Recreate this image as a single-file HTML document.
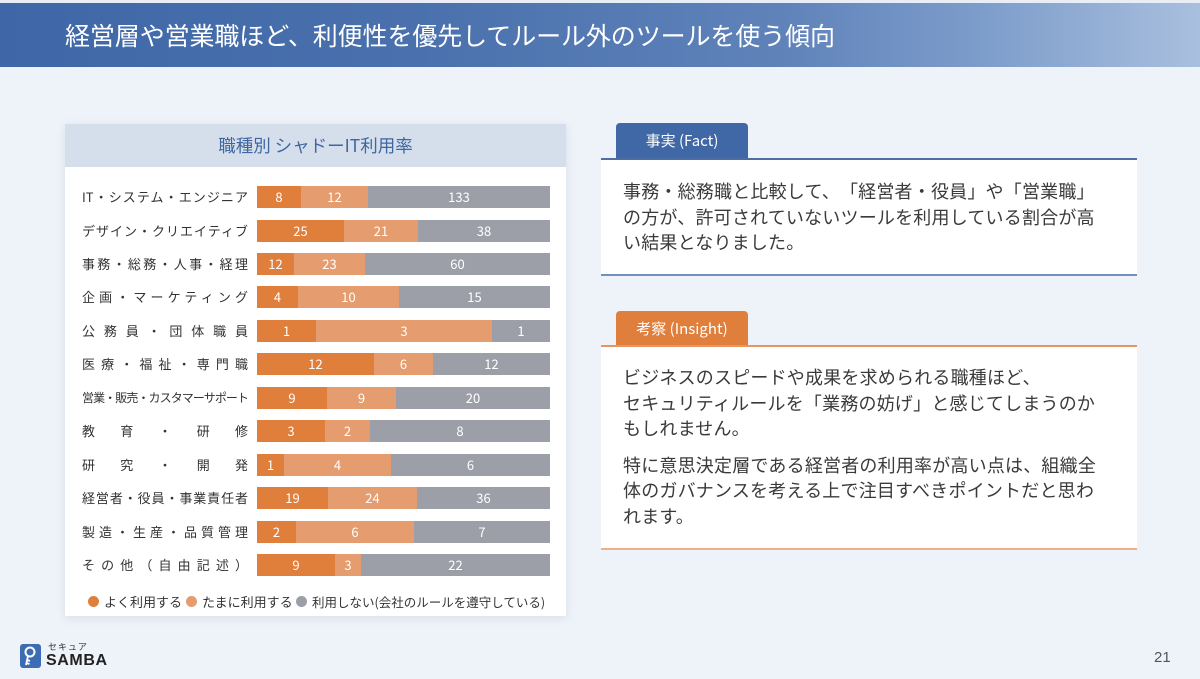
<!DOCTYPE html>
<html><head><meta charset="utf-8">
<style>
*{margin:0;padding:0;box-sizing:border-box}
body{width:1200px;height:679px;overflow:hidden;background:#eef2f9;font-family:"Liberation Sans","Noto Sans CJK JP",sans-serif;position:relative;color:#333;text-spacing-trim:space-all}
.abs{position:absolute}
#hdr{left:0;top:3px;width:1200px;height:64px;background:linear-gradient(90deg,#3f67a7 0%,#4a71ad 35%,#5f82b9 65%,#7d9dcb 82%,#a9bfde 100%)}
#title{left:65px;top:17px;font-size:25px;color:#fff;font-weight:400;white-space:nowrap;letter-spacing:-0.1px;font-family:"Noto Sans CJK JP",sans-serif}
#card{left:65px;top:124px;width:501px;height:492px;background:#fff;box-shadow:0 2px 8px rgba(120,140,170,.18)}
#ctitle{left:0;top:0;width:501px;height:43px;background:#d5dfec;text-align:center;line-height:43px;font-size:17.5px;color:#3f66a0;font-family:"Noto Sans CJK JP",sans-serif}
.lbl{position:absolute;left:82px;width:166px;height:22px;line-height:22px;font-size:13px;color:#333;text-align:justify;text-align-last:justify;white-space:nowrap;font-family:"Noto Sans CJK JP",sans-serif}
.bar{position:absolute;left:257px;width:293px;height:22px;display:flex}
.bar div{height:22px;line-height:22px;text-align:center;color:#fff;font-size:13px;font-family:"Noto Sans CJK JP",sans-serif}
.a{background:#e07e3c}.b{background:#e59c6e}.c{background:#9c9fa8}
.leg{position:absolute;top:594px;font-size:13px;color:#333;white-space:nowrap;line-height:16px;font-family:"Noto Sans CJK JP",sans-serif}
.dot{position:absolute;top:596px;width:11px;height:11px;border-radius:50%}
.tab{position:absolute;left:616px;width:132px;height:35px;border-radius:4px 4px 0 0;color:#fff;font-size:15px;text-align:center;line-height:35px;font-family:"Noto Sans CJK JP",sans-serif}
.box{position:absolute;left:601px;width:536px;background:#fff}
.txt{position:absolute;left:623px;font-size:18px;line-height:25.5px;color:#3a3a3a;white-space:nowrap;letter-spacing:0.2px;font-family:"Noto Sans CJK JP",sans-serif}
</style></head><body>
<div class="abs" style="left:0;top:0;width:1200px;height:3px;background:#e9eef6"></div>
<div id="hdr" class="abs"></div>
<div id="title" class="abs">経営層や営業職ほど、利便性を優先してルール外のツールを使う傾向</div>

<div id="card" class="abs"><div id="ctitle" class="abs">職種別 シャドーIT利用率</div></div>

<div class="lbl" style="top:186px">IT・システム・エンジニア</div>
<div class="lbl" style="top:219.5px">デザイン・クリエイティブ</div>
<div class="lbl" style="top:252.9px">事務・総務・人事・経理</div>
<div class="lbl" style="top:286.4px">企画・マーケティング</div>
<div class="lbl" style="top:319.8px">公務員・団体職員</div>
<div class="lbl" style="top:353.3px">医療・福祉・専門職</div>
<div class="lbl" style="top:386.7px;font-size:12px;letter-spacing:-1px">営業・販売・カスタマーサポート</div>
<div class="lbl" style="top:420.2px">教育・研修</div>
<div class="lbl" style="top:453.6px">研究・開発</div>
<div class="lbl" style="top:487.1px">経営者・役員・事業責任者</div>
<div class="lbl" style="top:520.5px">製造・生産・品質管理</div>
<div class="lbl" style="top:554px">その他（自由記述）</div>

<div class="bar" style="top:186px"><div class="a" style="width:44px">8</div><div class="b" style="width:67px">12</div><div class="c" style="flex:1">133</div></div>
<div class="bar" style="top:219.5px"><div class="a" style="width:87px">25</div><div class="b" style="width:74px">21</div><div class="c" style="flex:1">38</div></div>
<div class="bar" style="top:252.9px"><div class="a" style="width:37px">12</div><div class="b" style="width:71px">23</div><div class="c" style="flex:1">60</div></div>
<div class="bar" style="top:286.4px"><div class="a" style="width:41px">4</div><div class="b" style="width:101px">10</div><div class="c" style="flex:1">15</div></div>
<div class="bar" style="top:319.8px"><div class="a" style="width:59px">1</div><div class="b" style="width:176px">3</div><div class="c" style="flex:1">1</div></div>
<div class="bar" style="top:353.3px"><div class="a" style="width:117px">12</div><div class="b" style="width:59px">6</div><div class="c" style="flex:1">12</div></div>
<div class="bar" style="top:386.7px"><div class="a" style="width:70px">9</div><div class="b" style="width:69px">9</div><div class="c" style="flex:1">20</div></div>
<div class="bar" style="top:420.2px"><div class="a" style="width:68px">3</div><div class="b" style="width:45px">2</div><div class="c" style="flex:1">8</div></div>
<div class="bar" style="top:453.6px"><div class="a" style="width:27px">1</div><div class="b" style="width:107px">4</div><div class="c" style="flex:1">6</div></div>
<div class="bar" style="top:487.1px"><div class="a" style="width:71px">19</div><div class="b" style="width:89px">24</div><div class="c" style="flex:1">36</div></div>
<div class="bar" style="top:520.5px"><div class="a" style="width:39px">2</div><div class="b" style="width:118px">6</div><div class="c" style="flex:1">7</div></div>
<div class="bar" style="top:554px"><div class="a" style="width:78px">9</div><div class="b" style="width:26px">3</div><div class="c" style="flex:1">22</div></div>

<div class="dot a" style="left:88px"></div><div class="leg" style="left:104px">よく利用する</div>
<div class="dot b" style="left:186px"></div><div class="leg" style="left:202px">たまに利用する</div>
<div class="dot c" style="left:296px"></div><div class="leg" style="left:312px;font-size:12.5px">利用しない(会社のルールを遵守している)</div>

<div class="tab" style="top:123px;background:#4068a6">事実 (Fact)</div>
<div class="box" style="top:158px;height:118px;border-top:2px solid #4c6fa6;border-bottom:2px solid #7190bf"></div>
<div class="txt" style="top:179px">事務・総務職と比較して、「経営者・役員」や「営業職」<br>の方が、許可されていないツールを利用している割合が高<br>い結果となりました。</div>

<div class="tab" style="top:311px;background:#e07e3c">考察 (Insight)</div>
<div class="box" style="top:345px;height:205px;border-top:2px solid #e89561;border-bottom:2px solid #eeb08a"></div>
<div class="txt" style="top:365px">ビジネスのスピードや成果を求められる職種ほど、<br>セキュリティルールを「業務の妨げ」と感じてしまうのか<br>もしれません。</div>
<div class="txt" style="top:452.5px">特に意思決定層である経営者の利用率が高い点は、組織全<br>体のガバナンスを考える上で注目すべきポイントだと思わ<br>れます。</div>

<div class="abs" style="left:20px;top:644px;width:21px;height:24px;background:#3c6db4;border-radius:3px">
<svg width="21" height="24" viewBox="0 0 21 24"><circle cx="10" cy="8" r="4.5" fill="none" stroke="#fff" stroke-width="2"/><path d="M8 12 L6 21 M7 16 L10 17 M6.5 19 L9.5 20" stroke="#fff" stroke-width="1.8" fill="none"/></svg></div>
<div class="abs" style="left:48px;top:640px;font-size:9px;color:#333;letter-spacing:1px;font-family:'Noto Sans CJK JP',sans-serif">セキュア</div>
<div class="abs" style="left:46px;top:652px;font-size:16px;font-weight:bold;color:#222;letter-spacing:0.6px">SAMBA</div>
<div class="abs" style="left:1154px;top:649px;font-size:15px;color:#555">21</div>
</body></html>
